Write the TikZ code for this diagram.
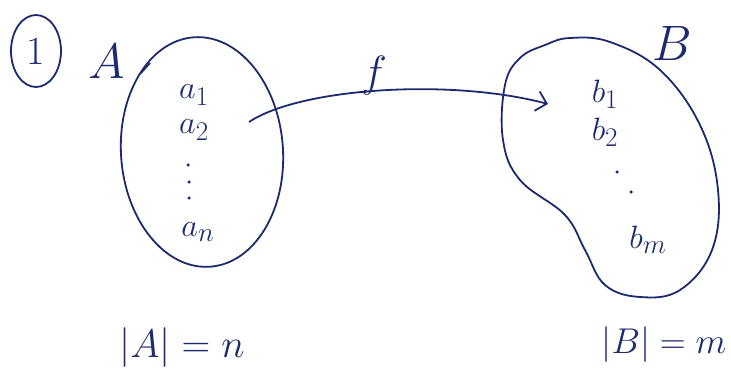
\documentclass[tikz,border=0pt]{standalone}
\usetikzlibrary{shapes.geometric,arrows.meta}
\definecolor{ink}{HTML}{1C2A6E}
\newcommand{\bigsz}{\fontsize{24.88}{28}\selectfont}
\begin{document}
\begin{tikzpicture}[x=1pt,y=-1pt,
  ink/.style={draw=ink,line width=1.8pt},
  lbl/.style={text=ink,font=\bigsz,inner sep=0pt,scale=1.6},
  elem/.style={text=ink,font=\bigsz,inner sep=1pt,scale=1.3},
  dotmark/.style={circle,fill=ink,inner sep=0pt,minimum size=3.5pt}]
\useasboundingbox (0,0) rectangle (731,374);
% circled 1
\node[text=ink,font=\fontsize{40}{42}\selectfont,inner sep=0pt] (one) at (36,51) {1};
\draw[ink] (one.center) ellipse [x radius=25, y radius=36];
\node[lbl,scale=1.25] (labA) at (107,62) {$A$};
% set A
\node[ellipse,ink,minimum width=162,minimum height=230,rotate=4] (setA) at (202,152) {};
\draw[ink] (140,74) -- (150,63);
\node[elem] (a1) at (194,95) {$a_1$};
\node[elem] (a2) at (194,130) {$a_2$};
\node[dotmark] (ad1) at (188,165) {};
\node[dotmark] (ad2) at (189,182) {};
\node[dotmark] (ad3) at (189,198) {};
\node[elem] (an) at (198,232) {$a_n$};
% set B
\node[lbl,scale=1.25] (labB) at (672,44) {$B$};
\draw[ink] plot[smooth cycle,tension=0.65] coordinates {
 (545,45) (570,38) (610,42) (660,70) (700,125) (718,190) (712,250)
 (680,290) (640,297) (605,285) (585,250) (565,215) (520,180) (503,140) (505,85) (520,58)};
\node[elem] (b1) at (605,94) {$b_1$};
\node[elem] (b2) at (605,132) {$b_2$};
\node[dotmark] (bd1) at (617,172) {};
\node[dotmark] (bd2) at (631,192) {};
\node[elem] (bm) at (648,240) {$b_m$};
% map f
\coordinate (fstart) at (249,122);
\coordinate (fend) at (548,104);
\draw[ink,-{Straight Barb[length=10pt,width=20pt]}] (fstart) .. controls (300,88) and (450,78) .. (fend);
\node[lbl,scale=1.1] (labf) at (374,76) {$f$};
% cardinalities
\node[lbl] (cardA) at (182,348) {$|A| = n$};
\node[lbl,scale=0.9] (cardB) at (664,345) {$|B| = m$};
\end{tikzpicture}
\end{document}
